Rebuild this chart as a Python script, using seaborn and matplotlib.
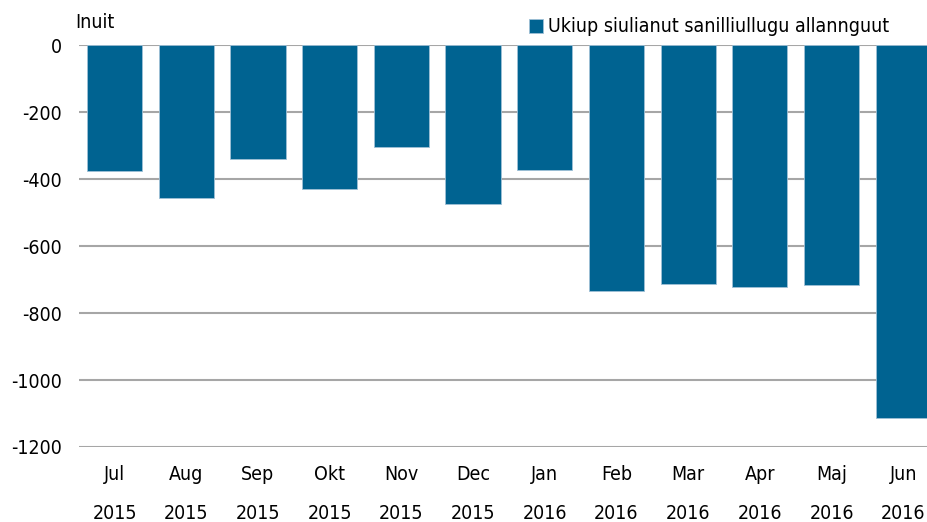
import matplotlib

matplotlib.use("Agg")
import matplotlib.pyplot as plt
import pandas as pd
import seaborn as sns

MONTHS = ["Jul", "Aug", "Sep", "Okt", "Nov", "Dec", "Jan", "Feb", "Mar", "Apr", "Maj", "Jun"]
YEARS = ["2015"] * 6 + ["2016"] * 6
VALUES = [-375, -457, -339, -431, -305, -475, -372, -735, -713, -721, -717, -1114]
SERIES = "Ukiup siulianut sanilliullugu allannguut"
Y_TICKS = [0, -200, -400, -600, -800, -1000, -1200]

BAR_COLOR = "#006391"


def main() -> None:
    sns.set_theme(style="white")
    plt.rcParams["font.family"] = ["DejaVu Sans"]
    plt.rcParams["font.stretch"] = "condensed"
    plt.rcParams["text.color"] = "black"

    df = pd.DataFrame({
        "label": [f"{m}\n{y}" for m, y in zip(MONTHS, YEARS)],
        "value": VALUES,
    })

    fig = plt.figure(figsize=(9.28, 5.22), dpi=100)
    ax = fig.add_axes([78.7 / 928, 1 - 447 / 522, 860.4 / 928, 402 / 522])

    sns.barplot(data=df, x="label", y="value", color=BAR_COLOR, saturation=1,
                width=0.77, edgecolor="#9fc0d6", linewidth=0.6, label=SERIES, ax=ax)

    ax.set_ylim(-1200, 0)
    ax.set_xlim(-0.5, len(MONTHS) - 0.5)
    ax.set_yticks(Y_TICKS)
    ax.set_yticklabels([str(t) for t in Y_TICKS])
    ax.yaxis.grid(True, color="#a6a6a6", linewidth=1.5)
    ax.set_axisbelow(True)
    for s in ax.spines.values():
        s.set_visible(False)
    ax.tick_params(axis="both", length=0, labelsize=14, colors="black")
    ax.tick_params(axis="y", pad=12)
    ax.tick_params(axis="x", pad=13)
    for lbl in ax.get_xticklabels():
        lbl.set_linespacing(2.3)
        lbl.set_verticalalignment("top")
    ax.set_xlabel("")
    ax.set_ylabel("")

    fig.text(75 / 928, 1 - 23 / 522, "Inuit", fontsize=14, va="center", ha="left")

    ax.legend(loc="center left", bbox_to_anchor=(529 / 928, 1 - 27 / 522),
              bbox_transform=fig.transFigure, frameon=False, fontsize=14,
              handlelength=0.7, handleheight=0.7, handletextpad=0.3,
              borderpad=0, borderaxespad=0)

    fig.savefig("out.png", dpi=100)
    plt.close(fig)


if __name__ == "__main__":
    main()
